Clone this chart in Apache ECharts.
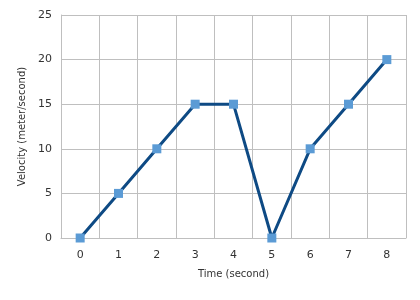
<!DOCTYPE html>
<html>
<head>
<meta charset="utf-8">
<script src="https://cdn.jsdelivr.net/npm/echarts@6/dist/echarts.min.js"></script>
<style>
  html, body { margin: 0; padding: 0; background: #fff; }
  #chart { width: 420px; height: 300px; }
</style>
</head>
<body>
<div id="chart"></div>
<script>
// time (second) and velocity (meter/second)
const timeLabels = ['0', '1', '2', '3', '4', '5', '6', '7', '8']
const velocity = [0, 5, 10, 15, 15, 0, 10, 15, 20]

const gridColor = '#bfbfbf'
const textColor = '#333'
const font = 'DejaVu Sans'

const chart = echarts.init(document.getElementById('chart'))
chart.setOption({
  animation: false,
  grid: { left: 61, right: 14, top: 15, bottom: 62 },
  xAxis: {
    type: 'category',
    data: timeLabels,
    boundaryGap: true,
    name: 'Time (second)',
    nameLocation: 'middle',
    nameGap: 31,
    nameTextStyle: { color: textColor, fontFamily: font, fontSize: 10 },
    axisLine: { lineStyle: { color: gridColor } },
    axisTick: { show: false },
    axisLabel: { color: textColor, fontFamily: font, fontSize: 11, margin: 12 },
    splitLine: { show: true, lineStyle: { color: gridColor } }
  },
  yAxis: {
    type: 'value',
    min: 0,
    max: 25,
    interval: 5,
    name: 'Velocity (meter/second)',
    nameLocation: 'middle',
    nameGap: 30,
    nameTextStyle: { color: textColor, fontFamily: font, fontSize: 10 },
    axisLine: { show: true, lineStyle: { color: gridColor } },
    axisTick: { show: false },
    axisLabel: { color: textColor, fontFamily: font, fontSize: 11, margin: 9 },
    splitLine: { lineStyle: { color: gridColor } }
  },
  series: [
    {
      type: 'line',
      data: velocity,
      symbol: 'rect',
      symbolSize: 9,
      lineStyle: { color: '#0e4a84', width: 3 },
      itemStyle: { color: '#5b9bd5' }
    }
  ]
})
</script>
</body>
</html>
